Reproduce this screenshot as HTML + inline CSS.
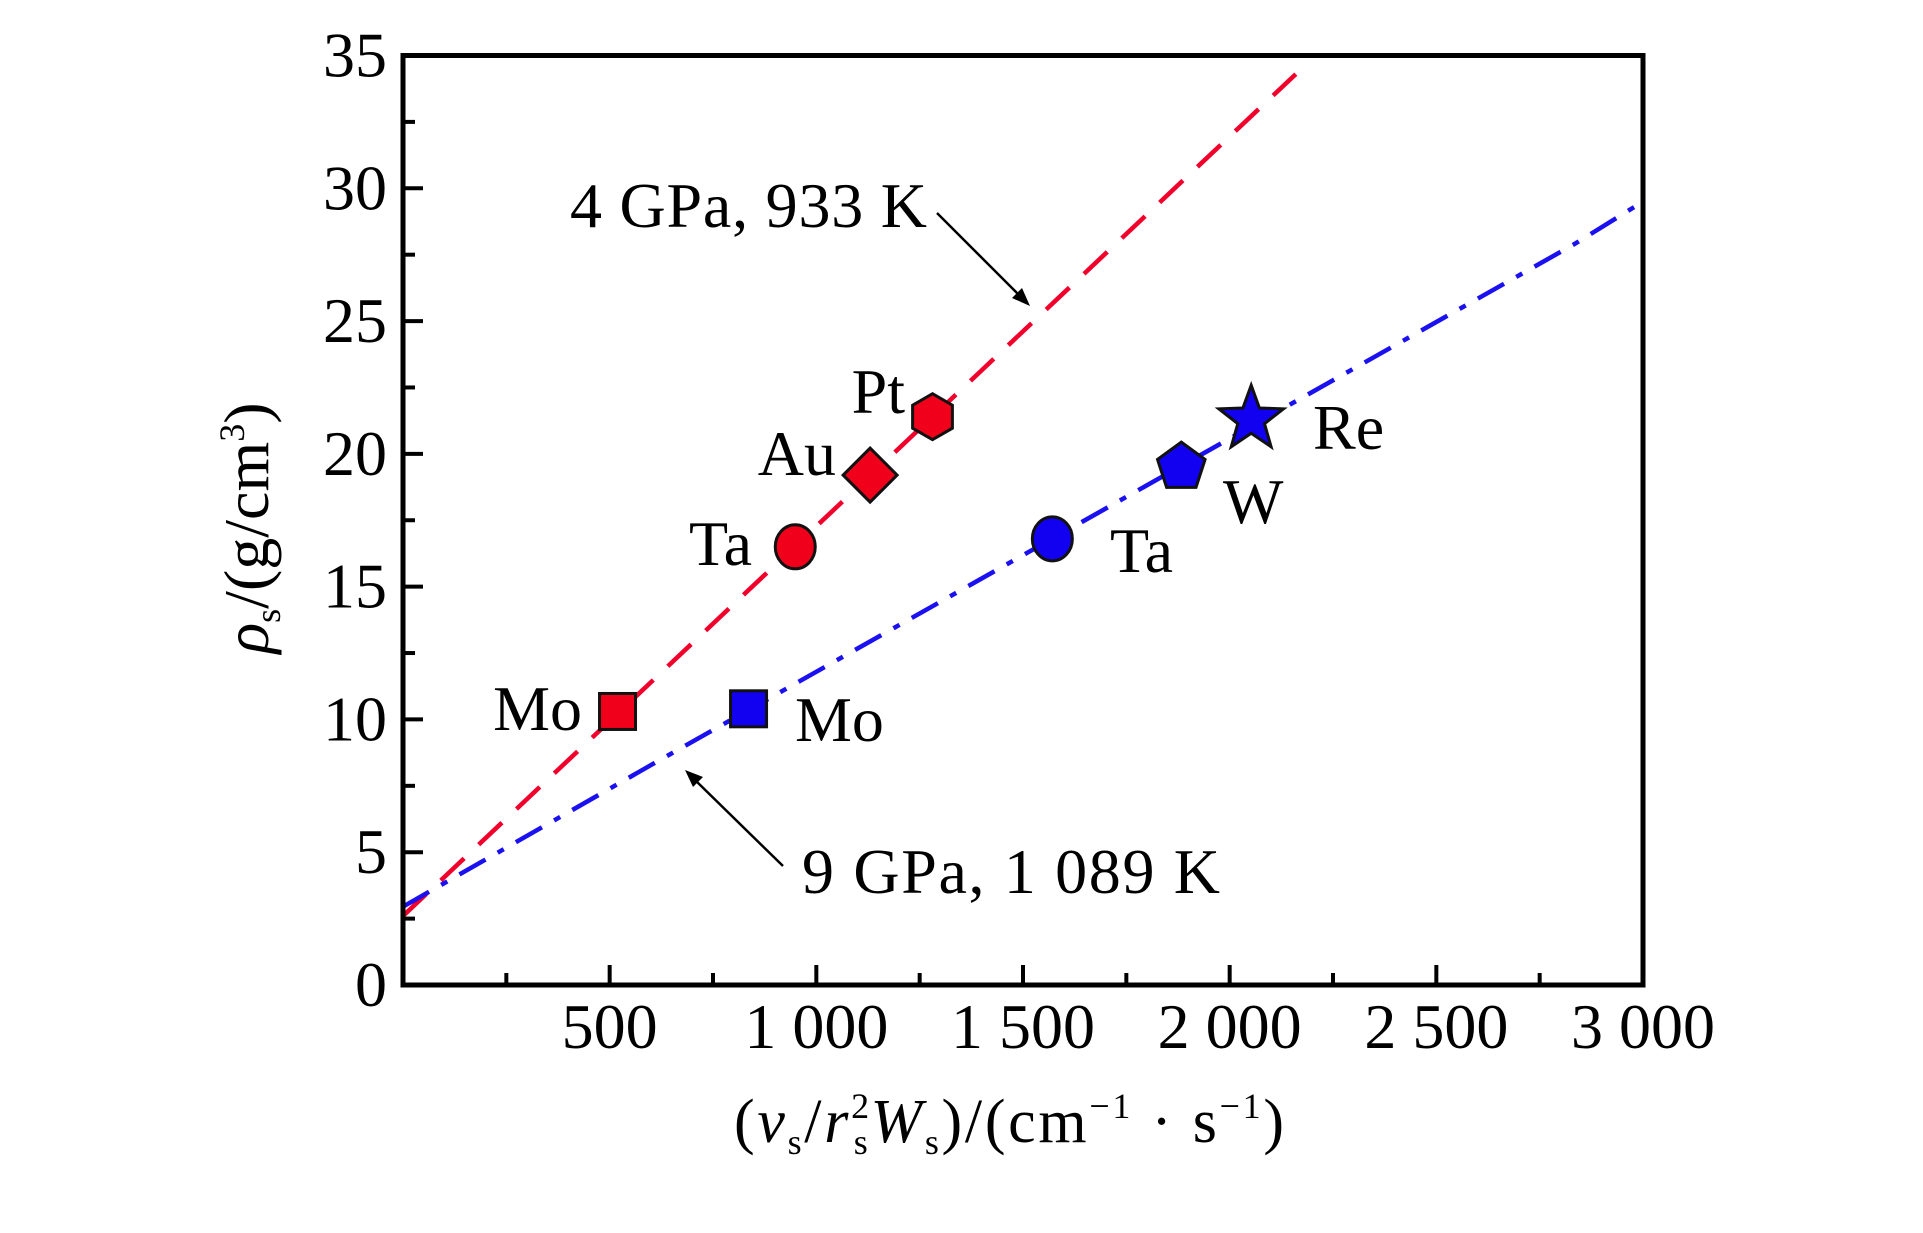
<!DOCTYPE html>
<html><head><meta charset="utf-8"><style>
html,body{margin:0;padding:0;background:#fff;}
svg{display:block;font-family:"Liberation Serif",serif;}
</style></head><body>
<svg id="chart" width="1923" height="1233" viewBox="0 0 1923 1233">
<rect x="0" y="0" width="1923" height="1233" fill="#fff"/>
<g id="lines"></g>
<g id="marks"></g>
<g id="axes"></g>
<g id="annot">
<text x="570" y="227" font-size="64" textLength="357">4 GPa, 933 K</text>
<line x1="937" y1="213" x2="1021" y2="297" stroke="#000" stroke-width="2.5"/>
<polygon points="1030,306 1012,298 1022,288" fill="#000"/>
<text x="802" y="893" font-size="64" textLength="418">9 GPa, 1 089 K</text>
<line x1="783" y1="866" x2="693" y2="778" stroke="#000" stroke-width="2.5"/>
<polygon points="685,770 703,777 693,787" fill="#000"/>
<text x="582" y="730" font-size="64" text-anchor="end">Mo</text>
<text x="752" y="565" font-size="64" text-anchor="end">Ta</text>
<text x="836" y="475" font-size="64" text-anchor="end">Au</text>
<text x="905" y="413" font-size="64" text-anchor="end">Pt</text>
<text x="795" y="741" font-size="64">Mo</text>
<text x="1110" y="572" font-size="64">Ta</text>
<text x="1223" y="523" font-size="64">W</text>
<text x="1313" y="449" font-size="64">Re</text>
</g>
<text x="734" y="1142" font-size="62" textLength="550">(<tspan font-style="italic">v</tspan><tspan font-size="36" dy="12">s</tspan><tspan dy="-12">/</tspan><tspan font-style="italic">r</tspan><tspan font-size="36" dy="-24">2</tspan><tspan font-size="36" dx="-18" dy="36">s</tspan><tspan font-style="italic" dy="-12">W</tspan><tspan font-size="36" dy="12">s</tspan><tspan dy="-12">)/(cm</tspan><tspan font-size="36" dy="-24">−1</tspan><tspan dy="24"> · s</tspan><tspan font-size="36" dy="-24">−1</tspan><tspan dy="24">)</tspan></text>
<text transform="translate(268,528) rotate(-90)" font-size="64" text-anchor="middle"><tspan font-style="italic">ρ</tspan><tspan font-size="36" dy="12">s</tspan><tspan dy="-12">/(g/cm</tspan><tspan font-size="36" dy="-24">3</tspan><tspan dy="24">)</tspan></text>
</svg>
<script>
const xTicks = [500, 1000, 1500, 2000, 2500, 3000];
const xTickLabels = ["500", "1 000", "1 500", "2 000", "2 500", "3 000"];
const yTicks = [0, 5, 10, 15, 20, 25, 30, 35];
const yTickLabels = ["0", "5", "10", "15", "20", "25", "30", "35"];
const redNames = ["Mo", "Ta", "Au", "Pt"];
const redX = [519, 949, 1130, 1281];
const redY = [10.3, 16.5, 19.2, 21.4];
const redShapes = ["square", "circle", "diamond", "hexagon"];
const blueNames = ["Mo", "Ta", "W", "Re"];
const blueX = [836, 1571, 1883, 2052];
const blueY = [10.4, 16.8, 19.5, 21.3];
const blueShapes = ["square", "circle", "pentagon", "star"];
const redLineX = [0, 2160];
const redLineY = [2.6, 34.3];
const blueLineX = [0, 602, 2834, 3000];
const blueLineY = [2.95, 8.3, 27.9, 29.5];

const L = 403, R = 1643, T = 55.5, B = 985;
const xMax = 3000, yMax = 35;
function sx(v){ return L + v / xMax * (R - L); }
function sy(v){ return B - v / yMax * (B - T); }
const NS = "http://www.w3.org/2000/svg";
function mk(tag, attrs, parent){
  const e = document.createElementNS(NS, tag);
  for (const k in attrs) e.setAttribute(k, attrs[k]);
  parent.appendChild(e);
  return e;
}
const axes = document.getElementById('axes');
const lines = document.getElementById('lines');
const marks = document.getElementById('marks');

const defs = mk('defs', {}, document.getElementById('chart'));
const cp = mk('clipPath', {id: 'clip'}, defs);
mk('rect', {x: L, y: T, width: R - L, height: B - T}, cp);
lines.setAttribute('clip-path', 'url(#clip)');

function linePath(xs, ys){
  return xs.map((x, i) => (i ? 'L' : 'M') + sx(x).toFixed(1) + ' ' + sy(ys[i]).toFixed(1)).join(' ');
}
const rl = mk('path', {d: linePath(redLineX, redLineY), fill: 'none', stroke: '#f0002a', 'stroke-width': 4.5, 'stroke-dasharray': '32 20'}, lines);


const bl = mk('path', {d: linePath(blueLineX, blueLineY), fill: 'none', stroke: '#1a10f0', 'stroke-width': 4.5, 'stroke-dasharray': '30 14 7 14'}, lines);



function polyPts(cx, cy, r, n, rot){
  const p = [];
  for (let i = 0; i < n; i++){
    const a = rot + i * 2 * Math.PI / n;
    p.push((cx + r * Math.cos(a)).toFixed(1) + ',' + (cy + r * Math.sin(a)).toFixed(1));
  }
  return p.join(' ');
}
function starPts(cx, cy, r1, r2){
  const p = [];
  for (let i = 0; i < 10; i++){
    const r = i % 2 ? r2 : r1;
    const a = -Math.PI / 2 + i * Math.PI / 5;
    p.push((cx + r * Math.cos(a)).toFixed(1) + ',' + (cy + r * Math.sin(a)).toFixed(1));
  }
  return p.join(' ');
}
function marker(shape, cx, cy, fill){
  const st = {fill: fill, stroke: '#111', 'stroke-width': 3};
  let e;
  if (shape === 'square') e = mk('rect', Object.assign({x: cx - 18, y: cy - 18, width: 36, height: 36}, st), marks);
  else if (shape === 'circle') e = mk('ellipse', Object.assign({cx: cx, cy: cy, rx: 20, ry: 22}, st), marks);
  else if (shape === 'diamond') e = mk('polygon', Object.assign({points: polyPts(cx, cy, 27, 4, -Math.PI / 2)}, st), marks);
  else if (shape === 'hexagon') e = mk('polygon', Object.assign({points: polyPts(cx, cy, 23, 6, -Math.PI / 2)}, st), marks);
  else if (shape === 'pentagon') e = mk('polygon', Object.assign({points: polyPts(cx, cy, 25, 5, -Math.PI / 2)}, st), marks);
  else e = mk('polygon', Object.assign({points: starPts(cx, cy, 34, 14)}, st), marks);
  return e;
}
redX.forEach((x, i) => {
  const e = marker(redShapes[i], sx(x), sy(redY[i]), '#f0001a');
  
  
});
blueX.forEach((x, i) => {
  const e = marker(blueShapes[i], sx(x), sy(blueY[i]), '#1200f0');
  
  
});

const fr = mk('rect', {x: L, y: T, width: R - L, height: B - T, fill: 'none', stroke: '#000', 'stroke-width': 5}, axes);


for (let v = 250; v < xMax; v += 250){
  const major = v % 500 === 0;
  const t = mk('line', {x1: sx(v), x2: sx(v), y1: B, y2: B - (major ? 20 : 12), stroke: '#000', 'stroke-width': 4}, axes);
  
  
}
for (let v = 2.5; v < yMax; v += 2.5){
  const major = v % 5 === 0;
  const t = mk('line', {x1: L, x2: L + (major ? 20 : 12), y1: sy(v), y2: sy(v), stroke: '#000', 'stroke-width': 4}, axes);
  
  
}
xTicks.forEach((v, i) => {
  const t = mk('text', {x: sx(v), y: 1048, 'font-size': 64, 'text-anchor': 'middle'}, axes);
  t.textContent = xTickLabels[i];
  
  
});
yTicks.forEach((v, i) => {
  const t = mk('text', {x: 387, y: sy(v) + 21, 'font-size': 64, 'text-anchor': 'end'}, axes);
  t.textContent = yTickLabels[i];
  
  
});
</script>
</body></html>
